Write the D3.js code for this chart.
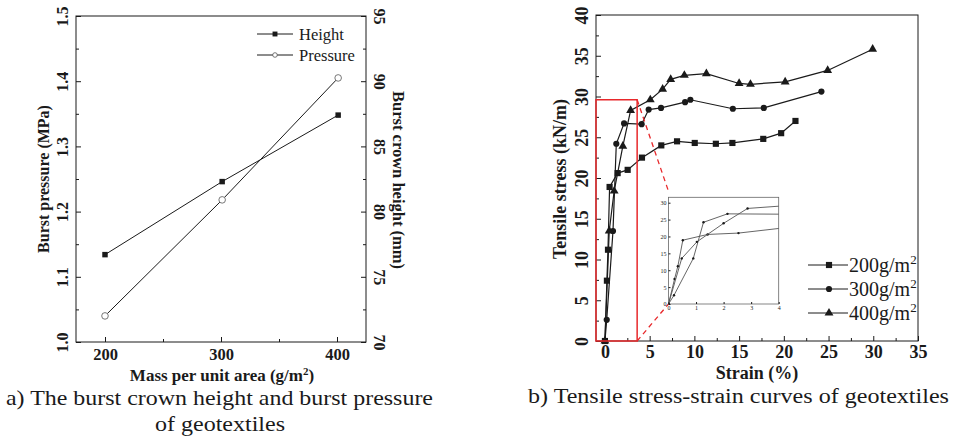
<!DOCTYPE html>
<html>
<head>
<meta charset="utf-8">
<script src="https://cdn.jsdelivr.net/npm/d3@7"></script>
<style>
  body { margin: 0; background: #fff; }
  svg { display: block; font-family: "Liberation Serif", "Times New Roman", serif; }
</style>
</head>
<body>
<div id="chart"></div>
<script>
// chart a) data
const massArea = [200, 301, 401]
const crownHeight = [76.7, 82.3, 87.4]
const burstPressure = [1.04, 1.218, 1.405]

// chart b) data
const strain200 = [0, 0.22, 0.34, 0.52, 1.42, 2.54, 4.14, 6.3, 8.06, 10.04, 12.4, 14.25, 17.7, 19.7, 21.3]
const stress200 = [0, 7.4, 11.2, 18.9, 20.6, 21.0, 22.5, 24.0, 24.5, 24.3, 24.2, 24.3, 24.8, 25.5, 27.0]
const strain300 = [0, 0.2, 0.9, 1.27, 2.14, 4.1, 4.89, 6.27, 8.96, 9.55, 14.3, 17.76, 24.2]
const stress300 = [0, 2.6, 13.5, 24.2, 26.7, 26.6, 28.4, 28.6, 29.3, 29.6, 28.5, 28.6, 30.6]
const strain400 = [0, 0.48, 1.03, 2.0, 2.87, 5.07, 6.45, 7.35, 8.88, 11.34, 15.0, 16.27, 20.15, 24.9, 29.93]
const stress400 = [0, 13.5, 18.4, 23.9, 28.3, 29.6, 30.9, 32.1, 32.6, 32.8, 31.6, 31.5, 31.8, 33.2, 35.8]

const seriesNames = ["200g/m", "300g/m", "400g/m"]

const ink = "#1a1a1a"
const svg = d3.select("#chart").append("svg").attr("width", 955).attr("height", 439)

function zip(xs, ys){ return xs.map((x, i) => [x, ys[i]]) }

function styleAxis(g, size, bold){
    g.select(".domain").remove()
    g.selectAll(".tick line").attr("stroke", ink)
    g.selectAll(".tick text").attr("fill", ink).attr("font-size", size)
        .attr("font-weight", bold ? "bold" : "normal")
        .attr("font-family", "Liberation Serif, Times New Roman, serif")
}

// rotate y tick labels like the original figure
function rotateLabels(g, dx, angle){
    g.selectAll(".tick text")
        .attr("x", 0).attr("dy", "0.35em")
        .attr("text-anchor", "middle")
        .attr("transform", `translate(${dx},0) rotate(${angle})`)
}

// ---------- chart a) ----------
const xA = d3.scaleLinear().domain([175, 425]).range([76, 366])
const yP = d3.scaleLinear().domain([1.0, 1.5]).range([342, 16])
const yH = d3.scaleLinear().domain([70, 95]).range([342, 16])

const gA = svg.append("g")

gA.append("g").attr("transform", "translate(0,342)")
    .call(d3.axisBottom(xA).tickValues([250, 350]).tickSize(-3).tickFormat(""))
    .call(g => styleAxis(g, 16, true))
gA.append("g").attr("transform", "translate(0,342)")
    .call(d3.axisBottom(xA).tickValues([200, 300, 400]).tickSize(-5).tickPadding(6))
    .call(g => styleAxis(g, 16.5, true))

gA.append("g").attr("transform", "translate(76,0)")
    .call(d3.axisLeft(yP).tickValues(d3.range(1.05, 1.5, 0.1)).tickSize(-3).tickFormat(""))
    .call(g => styleAxis(g, 15, true))
gA.append("g").attr("transform", "translate(76,0)")
    .call(d3.axisLeft(yP).ticks(5).tickSize(-5).tickFormat(d3.format(".1f")))
    .call(g => styleAxis(g, 16, true))
    .call(g => rotateLabels(g, -14, -90))

gA.append("g").attr("transform", "translate(366,0)")
    .call(d3.axisRight(yH).tickValues(d3.range(72.5, 95, 5)).tickSize(-3).tickFormat(""))
    .call(g => styleAxis(g, 15, true))
gA.append("g").attr("transform", "translate(366,0)")
    .call(d3.axisRight(yH).ticks(5).tickSize(-5))
    .call(g => styleAxis(g, 16, true))
    .call(g => rotateLabels(g, 14, 90))

gA.append("rect").attr("x", 76).attr("y", 16).attr("width", 290).attr("height", 326)
    .attr("fill", "none").attr("stroke", ink).attr("stroke-width", 1)

const lineH = d3.line().x(d => xA(d[0])).y(d => yH(d[1]))
const lineP = d3.line().x(d => xA(d[0])).y(d => yP(d[1]))
gA.append("path").datum(zip(massArea, crownHeight)).attr("d", lineH)
    .attr("fill", "none").attr("stroke", ink).attr("stroke-width", 1)
gA.append("path").datum(zip(massArea, burstPressure)).attr("d", lineP)
    .attr("fill", "none").attr("stroke", ink).attr("stroke-width", 1)

gA.selectAll(".hpt").data(zip(massArea, crownHeight)).join("path").attr("class", "hpt")
    .attr("transform", d => `translate(${xA(d[0])},${yH(d[1])})`)
    .attr("d", d3.symbol(d3.symbolSquare, 30)).attr("fill", ink)
gA.selectAll(".ppt").data(zip(massArea, burstPressure)).join("circle").attr("class", "ppt")
    .attr("cx", d => xA(d[0])).attr("cy", d => yP(d[1])).attr("r", 3.3)
    .attr("fill", "#fff").attr("stroke", "#555").attr("stroke-width", 0.8)

// legend a)
const legA = gA.append("g")
;[["Height", 34, "sq"], ["Pressure", 55, "ci"]].forEach(([name, y, m]) => {
    legA.append("line").attr("x1", 257).attr("x2", 293).attr("y1", y).attr("y2", y)
        .attr("stroke", ink).attr("stroke-width", 1)
    if(m == "sq"){
        legA.append("path").attr("transform", `translate(275,${y})`)
            .attr("d", d3.symbol(d3.symbolSquare, 24)).attr("fill", ink)
    }else{
        legA.append("circle").attr("cx", 275).attr("cy", y).attr("r", 2.3)
            .attr("fill", "#fff").attr("stroke", "#555").attr("stroke-width", 0.8)
    }
    legA.append("text").attr("x", 299).attr("y", y).attr("dy", "0.35em")
        .attr("font-size", 16.5).attr("fill", ink).text(name)
})

gA.append("text").attr("transform", "translate(43,179) rotate(-90)")
    .attr("text-anchor", "middle").attr("dy", "0.35em")
    .attr("font-size", 16).attr("font-weight", "bold").attr("fill", ink)
    .text("Burst pressure (MPa)")
gA.append("text").attr("transform", "translate(399,180) rotate(90)")
    .attr("text-anchor", "middle").attr("dy", "0.35em")
    .attr("font-size", 16.5).attr("font-weight", "bold").attr("fill", ink)
    .text("Burst crown height (mm)")

const xlabA = gA.append("text").attr("x", 222).attr("y", 381).attr("text-anchor", "middle")
    .attr("font-size", 17).attr("font-weight", "bold").attr("fill", ink)
xlabA.append("tspan").text("Mass per unit area (g/m")
xlabA.append("tspan").attr("dy", -6).attr("font-size", 11).text("2")
xlabA.append("tspan").attr("dy", 6).text(")")

gA.append("text").attr("x", 6).attr("y", 405).attr("font-size", 21).attr("fill", ink)
    .attr("textLength", 427).attr("lengthAdjust", "spacingAndGlyphs")
    .text("a) The burst crown height and burst pressure")
gA.append("text").attr("x", 155).attr("y", 431)
    .attr("font-size", 21).attr("fill", ink)
    .attr("textLength", 130).attr("lengthAdjust", "spacingAndGlyphs")
    .text("of geotextiles")

// ---------- chart b) ----------
const xS = d3.scaleLinear().domain([-1, 35]).range([596, 918])
const yS = d3.scaleLinear().domain([0, 40]).range([341, 15])

const gB = svg.append("g")

gB.append("g").attr("transform", "translate(0,341)")
    .call(d3.axisBottom(xS).tickValues(d3.range(2.5, 35, 5)).tickSize(-3).tickFormat(""))
    .call(g => styleAxis(g, 18, true))
gB.append("g").attr("transform", "translate(0,341)")
    .call(d3.axisBottom(xS).tickValues(d3.range(0, 36, 5)).tickSize(-5).tickPadding(4))
    .call(g => styleAxis(g, 18, true))

gB.append("g").attr("transform", "translate(596,0)")
    .call(d3.axisLeft(yS).tickValues(d3.range(2.5, 40, 5)).tickSize(-3).tickFormat(""))
    .call(g => styleAxis(g, 18, true))
gB.append("g").attr("transform", "translate(596,0)")
    .call(d3.axisLeft(yS).tickValues(d3.range(0, 41, 5)).tickSize(-5))
    .call(g => styleAxis(g, 18, true))
    .call(g => rotateLabels(g, -14, -90))

gB.append("rect").attr("x", 596).attr("y", 15).attr("width", 322).attr("height", 326)
    .attr("fill", "none").attr("stroke", ink).attr("stroke-width", 1)

const series = [zip(strain200, stress200), zip(strain300, stress300), zip(strain400, stress400)]
const symbols = [d3.symbolSquare, d3.symbolCircle, d3.symbolTriangle]
const symSize = [38, 30, 34]
const lineS = d3.line().x(d => xS(d[0])).y(d => yS(d[1]))

series.forEach((s, i) => {
    gB.append("path").datum(s).attr("d", lineS)
        .attr("fill", "none").attr("stroke", ink).attr("stroke-width", 1.2)
    gB.selectAll(".m" + i).data(s).join("path").attr("class", "m" + i)
        .attr("transform", d => `translate(${xS(d[0])},${yS(d[1])})`)
        .attr("d", d3.symbol(symbols[i], symSize[i])).attr("fill", ink)
})

// zoom box and guide lines
const boxX1 = 3.6, boxY1 = 29.6
gB.append("rect").attr("x", xS(-1)).attr("y", yS(boxY1))
    .attr("width", xS(boxX1) - xS(-1)).attr("height", yS(0) - yS(boxY1))
    .attr("fill", "none").attr("stroke", "#e8282b").attr("stroke-width", 1.5)

// inset
const xI = d3.scaleLinear().domain([0, 4]).range([668.5, 778.7])
const yI = d3.scaleLinear().domain([0, 31.6]).range([304, 197.3])

gB.append("line").attr("x1", xS(boxX1)).attr("y1", yS(boxY1))
    .attr("x2", xI(0)).attr("y2", yI(31.6) - 6)
    .attr("stroke", "#e8282b").attr("stroke-width", 1.3).attr("stroke-dasharray", "5,4")
gB.append("line").attr("x1", xS(boxX1)).attr("y1", yS(0))
    .attr("x2", xI(0)).attr("y2", yI(0))
    .attr("stroke", "#e8282b").attr("stroke-width", 1.3).attr("stroke-dasharray", "5,4")

const gI = gB.append("g")
gI.append("rect").attr("x", xI(0)).attr("y", yI(31.6))
    .attr("width", xI(4) - xI(0)).attr("height", yI(0) - yI(31.6))
    .attr("fill", "#fff").attr("stroke", "#666").attr("stroke-width", 0.8)

gI.append("g").attr("transform", `translate(0,${yI(0)})`)
    .call(d3.axisBottom(xI).ticks(4).tickSize(-2).tickPadding(2))
    .call(g => styleAxis(g, 6, false))
gI.append("g").attr("transform", `translate(${xI(0)},0)`)
    .call(d3.axisLeft(yI).tickValues(d3.range(0, 31, 5)).tickSize(-2).tickPadding(2))
    .call(g => styleAxis(g, 6, false))

gI.append("clipPath").attr("id", "insetClip").append("rect")
    .attr("x", xI(0)).attr("y", yI(31.6))
    .attr("width", xI(4) - xI(0)).attr("height", yI(0) - yI(31.6))

const lineI = d3.line().x(d => xI(d[0])).y(d => yI(d[1]))
const gIc = gI.append("g").attr("clip-path", "url(#insetClip)")
series.forEach((s, i) => {
    gIc.append("path").datum(s).attr("d", lineI)
        .attr("fill", "none").attr("stroke", "#555").attr("stroke-width", 0.9)
    gIc.selectAll(".im" + i).data(s.filter(d => d[0] <= 4)).join("circle").attr("class", "im" + i)
        .attr("cx", d => xI(d[0])).attr("cy", d => yI(d[1])).attr("r", 1.2).attr("fill", ink)
})

// legend b)
const legY = [265, 289, 313]
seriesNames.forEach((name, i) => {
    gB.append("line").attr("x1", 808).attr("x2", 848).attr("y1", legY[i]).attr("y2", legY[i])
        .attr("stroke", ink).attr("stroke-width", 1)
    gB.append("path").attr("transform", `translate(829,${legY[i]})`)
        .attr("d", d3.symbol(symbols[i], symSize[i])).attr("fill", ink)
    const t = gB.append("text").attr("x", 849).attr("y", legY[i]).attr("dy", "0.35em")
        .attr("font-size", 20).attr("fill", ink)
    t.append("tspan").text(name)
    t.append("tspan").attr("dy", -8).attr("font-size", 13).text("2")
})

gB.append("text").attr("transform", "translate(560,179) rotate(-90)")
    .attr("text-anchor", "middle").attr("dy", "0.35em")
    .attr("font-size", 18).attr("font-weight", "bold").attr("fill", ink)
    .text("Tensile stress (kN/m)")
gB.append("text").attr("x", 757).attr("y", 378.5).attr("text-anchor", "middle")
    .attr("font-size", 18).attr("font-weight", "bold").attr("fill", ink)
    .text("Strain (%)")
gB.append("text").attr("x", 528).attr("y", 403)
    .attr("font-size", 20.5).attr("fill", ink)
    .attr("textLength", 421).attr("lengthAdjust", "spacingAndGlyphs")
    .text("b) Tensile stress-strain curves of geotextiles")
</script>
</body>
</html>
